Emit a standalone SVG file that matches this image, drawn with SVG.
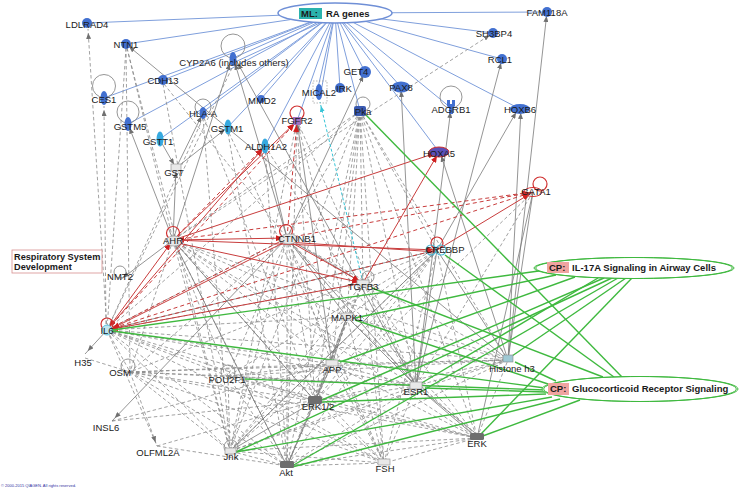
<svg xmlns="http://www.w3.org/2000/svg" width="743" height="489" viewBox="0 0 743 489">
<style>
.lb{font-family:"Liberation Sans",Arial,sans-serif;font-size:9.5px;fill:#1a1a1a;text-anchor:middle}
.bd{font-family:"Liberation Sans",Arial,sans-serif;font-weight:bold;font-size:9.5px;fill:#1a1a1a}
.eb line{stroke:#7f9fdc;stroke-width:1}
.egd line{stroke:#8a8a8a;stroke-width:0.8;stroke-dasharray:3.5 2.5}
.egs line{stroke:#7a7a7a;stroke-width:0.8}
.ers line{stroke:#c83c3c;stroke-width:1}
.erd line{stroke:#c83c3c;stroke-width:1;stroke-dasharray:4 3}
.egr line{stroke:#3fb93f;stroke-width:1.4}
.cy{stroke:#36c4d6;stroke-width:1;stroke-dasharray:3 2}
.loop{fill:none;stroke:#8a8a8a;stroke-width:0.9}
.rloop{fill:none;stroke:#d03030;stroke-width:1.2}
.bl{fill:#4270d0}
.cn{fill:#36a9df}
.hub{fill:#6e6e6e}
.gn{fill:#e8e8e8;stroke:#999;stroke-width:0.7}
</style>
<defs>
<marker id="ag" viewBox="0 0 6 5" refX="10" refY="2.5" markerWidth="6" markerHeight="5" markerUnits="userSpaceOnUse" orient="auto"><path d="M0,0L6,2.5L0,5z" fill="#707070"/></marker>
<marker id="ar" viewBox="0 0 7 6" refX="11" refY="3" markerWidth="7" markerHeight="6" markerUnits="userSpaceOnUse" orient="auto-start-reverse"><path d="M0,0L7,3L0,6z" fill="#d02020"/></marker>
<marker id="ac" viewBox="0 0 6 5" refX="10" refY="2.5" markerWidth="6" markerHeight="5" markerUnits="userSpaceOnUse" orient="auto"><path d="M0,0L6,2.5L0,5z" fill="#36c4d6"/></marker>
</defs>
<rect width="743" height="489" fill="#fff"/>

<g id="connectors">
<g class="eb">
<line x1="335" y1="13" x2="87" y2="23"/>
<line x1="335" y1="13" x2="126" y2="44"/>
<line x1="335" y1="13" x2="233" y2="58"/>
<line x1="335" y1="16" x2="235" y2="62"/>
<line x1="335" y1="13" x2="163" y2="80"/>
<line x1="335" y1="13" x2="104" y2="98"/>
<line x1="335" y1="13" x2="128" y2="124"/>
<line x1="335" y1="13" x2="203" y2="112"/>
<line x1="335" y1="13" x2="160" y2="139"/>
<line x1="335" y1="13" x2="228" y2="127"/>
<line x1="335" y1="13" x2="261" y2="99"/>
<line x1="335" y1="13" x2="265" y2="146"/>
<line x1="335" y1="13" x2="297" y2="121"/>
<line x1="335" y1="13" x2="317" y2="92"/>
<line x1="335" y1="13" x2="321" y2="92"/>
<line x1="335" y1="13" x2="340" y2="88"/>
<line x1="335" y1="13" x2="365" y2="72"/>
<line x1="335" y1="13" x2="360" y2="111"/>
<line x1="335" y1="13" x2="401" y2="87"/>
<line x1="335" y1="13" x2="439" y2="152"/>
<line x1="335" y1="13" x2="451" y2="108"/>
<line x1="335" y1="13" x2="520" y2="109"/>
<line x1="335" y1="13" x2="502" y2="59"/>
<line x1="335" y1="13" x2="493" y2="33"/>
<line x1="335" y1="13" x2="547" y2="12"/>
</g>
<g class="egd">
<line x1="107" y1="330" x2="88" y2="29" marker-end="url(#ag)"/>
<line x1="106" y1="330" x2="104" y2="106" marker-end="url(#ag)"/>
<line x1="126" y1="48" x2="107" y2="330"/>
<line x1="126" y1="48" x2="130" y2="372"/>
<line x1="127" y1="48" x2="173" y2="240"/>
<line x1="127" y1="48" x2="230" y2="451"/>
<line x1="163" y1="84" x2="230" y2="451"/>
<line x1="164" y1="84" x2="287" y2="238"/>
<line x1="203" y1="118" x2="107" y2="330"/>
<line x1="203" y1="118" x2="230" y2="451"/>
<line x1="204" y1="118" x2="315" y2="401"/>
<line x1="228" y1="133" x2="287" y2="466"/>
<line x1="229" y1="133" x2="384" y2="463"/>
<line x1="232" y1="68" x2="107" y2="330"/>
<line x1="297" y1="125" x2="315" y2="401"/>
<line x1="297" y1="125" x2="287" y2="466"/>
<line x1="298" y1="125" x2="347" y2="317"/>
<line x1="296" y1="125" x2="230" y2="451"/>
<line x1="299" y1="125" x2="416" y2="386"/>
<line x1="360" y1="111" x2="173" y2="240"/>
<line x1="360" y1="111" x2="287" y2="238"/>
<line x1="360" y1="111" x2="363" y2="283"/>
<line x1="360" y1="111" x2="347" y2="317"/>
<line x1="360" y1="111" x2="416" y2="386"/>
<line x1="360" y1="111" x2="315" y2="401"/>
<line x1="360" y1="111" x2="287" y2="466"/>
<line x1="360" y1="111" x2="230" y2="451"/>
<line x1="360" y1="111" x2="477" y2="438"/>
<line x1="360" y1="111" x2="437" y2="250"/>
<line x1="360" y1="111" x2="384" y2="463"/>
<line x1="360" y1="111" x2="332" y2="364"/>
<line x1="360" y1="111" x2="107" y2="330"/>
<line x1="360" y1="111" x2="508" y2="360"/>
<line x1="173" y1="240" x2="493" y2="33" marker-end="url(#ag)"/>
<line x1="173" y1="240" x2="416" y2="386"/>
<line x1="173" y1="240" x2="287" y2="466"/>
<line x1="173" y1="240" x2="230" y2="451"/>
<line x1="173" y1="240" x2="315" y2="401"/>
<line x1="173" y1="240" x2="477" y2="438"/>
<line x1="173" y1="240" x2="384" y2="463"/>
<line x1="173" y1="240" x2="347" y2="317"/>
<line x1="173" y1="240" x2="332" y2="364"/>
<line x1="173" y1="240" x2="228" y2="376"/>
<line x1="173" y1="240" x2="508" y2="360"/>
<line x1="173" y1="240" x2="130" y2="372"/>
<line x1="287" y1="238" x2="287" y2="466"/>
<line x1="287" y1="238" x2="230" y2="451"/>
<line x1="287" y1="238" x2="315" y2="401"/>
<line x1="287" y1="238" x2="477" y2="438"/>
<line x1="287" y1="238" x2="332" y2="364"/>
<line x1="287" y1="238" x2="508" y2="360"/>
<line x1="287" y1="238" x2="384" y2="463"/>
<line x1="287" y1="238" x2="228" y2="376"/>
<line x1="287" y1="238" x2="130" y2="372"/>
<line x1="287" y1="238" x2="107" y2="330"/>
<line x1="437" y1="250" x2="287" y2="466"/>
<line x1="437" y1="250" x2="230" y2="451"/>
<line x1="437" y1="250" x2="315" y2="401"/>
<line x1="437" y1="250" x2="477" y2="438"/>
<line x1="437" y1="250" x2="347" y2="317"/>
<line x1="437" y1="250" x2="332" y2="364"/>
<line x1="437" y1="250" x2="228" y2="376"/>
<line x1="437" y1="250" x2="130" y2="372"/>
<line x1="437" y1="250" x2="384" y2="463"/>
<line x1="363" y1="283" x2="416" y2="386"/>
<line x1="363" y1="283" x2="287" y2="466"/>
<line x1="363" y1="283" x2="230" y2="451"/>
<line x1="363" y1="283" x2="315" y2="401"/>
<line x1="363" y1="283" x2="347" y2="317"/>
<line x1="363" y1="283" x2="477" y2="438"/>
<line x1="363" y1="283" x2="384" y2="463"/>
<line x1="107" y1="330" x2="130" y2="372"/>
<line x1="107" y1="330" x2="228" y2="376"/>
<line x1="107" y1="330" x2="332" y2="364"/>
<line x1="107" y1="330" x2="416" y2="386"/>
<line x1="107" y1="330" x2="315" y2="401"/>
<line x1="107" y1="330" x2="287" y2="466"/>
<line x1="107" y1="330" x2="230" y2="451"/>
<line x1="107" y1="330" x2="477" y2="438"/>
<line x1="107" y1="330" x2="384" y2="463"/>
<line x1="107" y1="330" x2="347" y2="317"/>
<line x1="107" y1="330" x2="508" y2="360"/>
<line x1="107" y1="330" x2="363" y2="283"/>
<line x1="107" y1="330" x2="157" y2="446"/>
<line x1="130" y1="372" x2="228" y2="376"/>
<line x1="130" y1="372" x2="416" y2="386"/>
<line x1="130" y1="372" x2="508" y2="360"/>
<line x1="130" y1="372" x2="332" y2="364"/>
<line x1="130" y1="372" x2="230" y2="451"/>
<line x1="130" y1="372" x2="287" y2="466"/>
<line x1="130" y1="372" x2="384" y2="463"/>
<line x1="130" y1="372" x2="477" y2="438"/>
<line x1="130" y1="372" x2="157" y2="446" marker-end="url(#ag)"/>
<line x1="130" y1="372" x2="315" y2="401"/>
<line x1="85" y1="358" x2="130" y2="372"/>
<line x1="112" y1="421" x2="315" y2="401"/>
<line x1="112" y1="421" x2="332" y2="364"/>
<line x1="157" y1="446" x2="315" y2="401"/>
<line x1="157" y1="446" x2="287" y2="466"/>
<line x1="228" y1="376" x2="230" y2="451"/>
<line x1="228" y1="376" x2="287" y2="466"/>
<line x1="228" y1="376" x2="315" y2="401"/>
<line x1="228" y1="376" x2="332" y2="364"/>
<line x1="228" y1="376" x2="416" y2="386"/>
<line x1="228" y1="376" x2="508" y2="360"/>
<line x1="228" y1="376" x2="477" y2="438"/>
<line x1="228" y1="376" x2="384" y2="463"/>
<line x1="332" y1="364" x2="416" y2="386"/>
<line x1="332" y1="364" x2="287" y2="466"/>
<line x1="332" y1="364" x2="230" y2="451"/>
<line x1="332" y1="364" x2="384" y2="463"/>
<line x1="332" y1="364" x2="477" y2="438"/>
<line x1="332" y1="364" x2="508" y2="360"/>
<line x1="347" y1="317" x2="287" y2="466"/>
<line x1="347" y1="317" x2="230" y2="451"/>
<line x1="347" y1="317" x2="384" y2="463"/>
<line x1="347" y1="317" x2="477" y2="438"/>
<line x1="347" y1="317" x2="508" y2="360"/>
<line x1="416" y1="386" x2="287" y2="466"/>
<line x1="416" y1="386" x2="230" y2="451"/>
<line x1="416" y1="386" x2="384" y2="463"/>
<line x1="416" y1="386" x2="315" y2="401"/>
<line x1="416" y1="386" x2="508" y2="360"/>
<line x1="477" y1="438" x2="287" y2="466"/>
<line x1="477" y1="438" x2="384" y2="463"/>
<line x1="477" y1="438" x2="230" y2="451"/>
<line x1="477" y1="438" x2="508" y2="360"/>
<line x1="477" y1="438" x2="315" y2="401"/>
<line x1="287" y1="466" x2="384" y2="463"/>
<line x1="287" y1="466" x2="230" y2="451"/>
<line x1="230" y1="451" x2="384" y2="463"/>
<line x1="384" y1="463" x2="315" y2="401"/>
<line x1="508" y1="360" x2="287" y2="466"/>
<line x1="508" y1="360" x2="230" y2="451"/>
<line x1="508" y1="360" x2="315" y2="401"/>
<line x1="533" y1="192" x2="416" y2="386"/>
<line x1="533" y1="192" x2="315" y2="401"/>
<line x1="265" y1="146" x2="287" y2="466"/>
<line x1="265" y1="146" x2="416" y2="386"/>
</g>
<g class="egs">
<line x1="508" y1="360" x2="126" y2="44" marker-end="url(#ag)"/>
<line x1="173" y1="240" x2="128" y2="124" marker-end="url(#ag)"/>
<line x1="173" y1="240" x2="176" y2="168" marker-end="url(#ag)"/>
<line x1="176" y1="168" x2="203" y2="113" marker-end="url(#ag)"/>
<line x1="176" y1="168" x2="228" y2="127" marker-end="url(#ag)"/>
<line x1="160" y1="140" x2="176" y2="168" marker-end="url(#ag)"/>
<line x1="173" y1="240" x2="231" y2="60" marker-end="url(#ag)"/>
<line x1="287" y1="238" x2="234" y2="60" marker-end="url(#ag)"/>
<line x1="416" y1="386" x2="236" y2="60" marker-end="url(#ag)"/>
<line x1="173" y1="240" x2="120" y2="280" marker-end="url(#ag)"/>
<line x1="287" y1="238" x2="112" y2="421" marker-end="url(#ag)"/>
<line x1="416" y1="386" x2="502" y2="59" marker-end="url(#ag)"/>
<line x1="437" y1="250" x2="518" y2="109" marker-end="url(#ag)"/>
<line x1="508" y1="360" x2="521" y2="109" marker-end="url(#ag)"/>
<line x1="508" y1="360" x2="547" y2="12" marker-end="url(#ag)"/>
<line x1="416" y1="386" x2="451" y2="108" marker-end="url(#ag)"/>
<line x1="416" y1="386" x2="401" y2="87" marker-end="url(#ag)"/>
<line x1="508" y1="360" x2="440" y2="152" marker-end="url(#ag)"/>
<line x1="287" y1="238" x2="365" y2="72" marker-end="url(#ag)"/>
<line x1="332" y1="364" x2="297" y2="121" marker-end="url(#ag)"/>
<line x1="107" y1="330" x2="85" y2="354" marker-end="url(#ag)"/>
<line x1="287" y1="238" x2="416" y2="386"/>
<line x1="416" y1="386" x2="477" y2="438"/>
<line x1="419" y1="388" x2="479" y2="436"/>
<line x1="332" y1="364" x2="315" y2="401"/>
<line x1="347" y1="317" x2="315" y2="401"/>
<line x1="347" y1="317" x2="416" y2="386"/>
<line x1="315" y1="401" x2="287" y2="466"/>
<line x1="437" y1="250" x2="416" y2="386"/>
<line x1="508" y1="360" x2="437" y2="250"/>
<line x1="533" y1="192" x2="508" y2="360"/>
<line x1="533" y1="192" x2="477" y2="438"/>
<line x1="230" y1="451" x2="315" y2="401"/>
<line x1="347" y1="317" x2="332" y2="364"/>
<line x1="173" y1="240" x2="315" y2="401"/>
<line x1="173" y1="240" x2="287" y2="466"/>
<line x1="230" y1="451" x2="437" y2="250"/>
<line x1="107" y1="330" x2="437" y2="250"/>
<line x1="287" y1="238" x2="347" y2="317"/>
<line x1="287" y1="238" x2="363" y2="283"/>
<line x1="265" y1="146" x2="287" y2="238"/>
</g>
<line class="cy" x1="363" y1="283" x2="320" y2="102" marker-end="url(#ac)"/>
<g class="erd">
<line x1="107" y1="330" x2="287" y2="238"/>
<line x1="107" y1="330" x2="437" y2="250"/>
<line x1="107" y1="330" x2="533" y2="192"/>
<line x1="107" y1="330" x2="297" y2="121" marker-end="url(#ar)"/>
<line x1="173" y1="240" x2="265" y2="146" marker-end="url(#ar)"/>
<line x1="173" y1="240" x2="533" y2="192" marker-end="url(#ar)"/>
<line x1="287" y1="238" x2="297" y2="121" marker-end="url(#ar)"/>
<line x1="287" y1="238" x2="533" y2="192"/>
</g>
<g class="ers">
<line x1="173" y1="240" x2="287" y2="238" marker-start="url(#ar)" marker-end="url(#ar)"/>
<line x1="173" y1="240" x2="437" y2="250" marker-end="url(#ar)"/>
<line x1="287" y1="242" x2="437" y2="252" marker-end="url(#ar)"/>
<line x1="173" y1="242" x2="363" y2="283" marker-end="url(#ar)"/>
<line x1="287" y1="240" x2="363" y2="283" marker-end="url(#ar)"/>
<line x1="107" y1="330" x2="173" y2="240" marker-start="url(#ar)" marker-end="url(#ar)"/>
<line x1="109" y1="330" x2="287" y2="241" marker-start="url(#ar)"/>
<line x1="107" y1="330" x2="363" y2="283" marker-start="url(#ar)"/>
<line x1="107" y1="330" x2="265" y2="146" marker-end="url(#ar)"/>
<line x1="173" y1="240" x2="297" y2="121" marker-end="url(#ar)"/>
<line x1="173" y1="240" x2="439" y2="152" marker-end="url(#ar)"/>
<line x1="437" y1="250" x2="533" y2="192" marker-end="url(#ar)"/>
<line x1="363" y1="283" x2="439" y2="152" marker-end="url(#ar)"/>
</g>
<g class="egr">
<line x1="112" y1="330" x2="546" y2="270"/>
<line x1="355" y1="318" x2="556" y2="275"/>
<line x1="340" y1="362" x2="575" y2="277"/>
<line x1="420" y1="384" x2="598" y2="278"/>
<line x1="322" y1="400" x2="604" y2="278"/>
<line x1="236" y1="452" x2="612" y2="278"/>
<line x1="292" y1="466" x2="618" y2="278"/>
<line x1="512" y1="356" x2="626" y2="278"/>
<line x1="480" y1="435" x2="632" y2="278"/>
<line x1="366" y1="115" x2="622" y2="377"/>
<line x1="445" y1="255" x2="614" y2="377"/>
<line x1="372" y1="288" x2="603" y2="377"/>
<line x1="355" y1="320" x2="548" y2="384"/>
<line x1="112" y1="331" x2="545" y2="388"/>
<line x1="245" y1="379" x2="545" y2="390"/>
<line x1="425" y1="388" x2="545" y2="392"/>
<line x1="322" y1="402" x2="546" y2="394"/>
<line x1="515" y1="362" x2="556" y2="381"/>
<line x1="236" y1="452" x2="552" y2="397"/>
<line x1="292" y1="467" x2="560" y2="399"/>
<line x1="480" y1="437" x2="580" y2="400"/>
</g>
</g>

<g id="ml"><ellipse cx="335" cy="13" rx="57" ry="10" fill="#fff" stroke="#6f8fd6" stroke-width="1.5"/><rect x="299" y="8" width="23" height="11" fill="#2bb3ad"/><text class="bd" x="301" y="17">ML:</text><text class="bd" x="326" y="17">RA genes</text></g>
<g id="il17a"><ellipse cx="634" cy="268" rx="100" ry="10.5" fill="#fff" stroke="#3fb93f" stroke-width="1"/><ellipse cx="634" cy="268" rx="98.3" ry="10.5" fill="none" stroke="#3fb93f" stroke-width="1"/><rect x="547" y="262" width="22" height="11" fill="#f0a4a0"/><text class="bd" x="549" y="271">CP:</text><text class="bd" x="572" y="271">IL-17A Signaling in Airway Cells</text></g>
<g id="gr"><ellipse cx="640" cy="389" rx="98" ry="12.5" fill="#fff" stroke="#3fb93f" stroke-width="1"/><ellipse cx="640" cy="389" rx="96.3" ry="12.5" fill="none" stroke="#3fb93f" stroke-width="1"/><rect x="548" y="383" width="21" height="12" fill="#f0a4a0"/><text class="bd" x="550" y="392">CP:</text><text class="bd" x="572" y="392">Glucocorticoid Receptor Signaling</text></g>
<g id="resp"><rect x="12" y="250" width="90" height="23" fill="#fff" stroke="#d89090" stroke-width="0.8"/><text class="bd" x="14" y="260" style="font-size:9.2px">Respiratory System</text><text class="bd" x="14" y="270" style="font-size:9.2px">Development</text></g>

<g id="n-ldlrad4"><circle class="bl" cx="87" cy="23" r="5"/><text class="lb" x="87" y="27.5">LDLRAD4</text></g>
<g id="n-ntn1"><circle class="bl" cx="126" cy="44" r="5"/><text class="lb" x="126" y="47.5">NTN1</text></g>
<g id="n-cyp2a6"><circle class="loop" cx="233" cy="46" r="12"/><ellipse class="bl" cx="233" cy="59" rx="3.5" ry="7"/><text class="lb" x="234" y="65.5">CYP2A6 (includes others)</text></g>
<g id="n-cdh13"><circle class="bl" cx="163" cy="80" r="5"/><text class="lb" x="163" y="83.5">CDH13</text></g>
<g id="n-ces1"><circle class="loop" cx="104" cy="86" r="11.5"/><ellipse class="bl" cx="104" cy="98" rx="3.5" ry="7"/><text class="lb" x="104" y="102.5">CES1</text></g>
<g id="n-gstm5"><circle class="loop" cx="128" cy="112" r="11"/><ellipse class="bl" cx="128" cy="124" rx="3.5" ry="7"/><text class="lb" x="130" y="129.5">GSTM5</text></g>
<g id="n-hlaa"><circle class="loop" cx="203" cy="107" r="8"/><ellipse class="bl" cx="203" cy="113" rx="3.5" ry="6"/><text class="lb" x="203" y="116.5">HLA-A</text></g>
<g id="n-gstt1"><ellipse class="cn" cx="160" cy="139" rx="3.5" ry="7.5"/><text class="lb" x="158" y="144.5">GSTT1</text></g>
<g id="n-gstm1"><ellipse class="cn" cx="228" cy="127" rx="3.5" ry="7.5"/><text class="lb" x="227" y="131.5">GSTM1</text></g>
<g id="n-mmd2"><circle class="bl" cx="261" cy="99" r="4"/><text class="lb" x="262" y="103.5">MMD2</text></g>
<g id="n-fgfr2"><circle class="rloop" cx="297" cy="113" r="7"/><rect x="293" y="117" width="8" height="8" fill="#a070c0"/><text class="lb" x="297" y="123.5">FGFR2</text></g>
<g id="n-aldh1a2"><ellipse class="cn" cx="265" cy="146" rx="3.5" ry="7.5"/><text class="lb" x="266" y="149.5">ALDH1A2</text></g>
<g id="n-mical2"><rect x="313" y="81" width="14" height="22" fill="none" stroke="#999" stroke-width="0.7" stroke-dasharray="1.5 1.5"/><ellipse class="bl" cx="319" cy="92" rx="3.5" ry="8"/><text class="lb" x="319" y="95.5">MICAL2</text></g>
<g id="n-irk"><circle class="bl" cx="340" cy="88" r="5"/><text class="lb" x="344" y="91.5">IRK</text></g>
<g id="n-get4"><circle class="bl" cx="365" cy="72" r="6"/><text class="lb" x="356" y="74.5">GET4</text></g>
<g id="n-pka"><circle class="loop" cx="363" cy="104" r="7"/><rect x="354" y="106" width="12" height="10" rx="2" fill="#3a5ab0"/><text class="lb" x="363" y="114.5">Pka</text></g>
<g id="n-pax8"><ellipse class="bl" cx="401" cy="87" rx="9" ry="5.5"/><text class="lb" x="401" y="90.5">PAX8</text></g>
<g id="n-adgrb1"><circle class="loop" cx="451" cy="97" r="11"/><path class="bl" d="M447,100h3v4h2v-4h3v6l-2,2v6h-4v-6l-2,-2z"/><text class="lb" x="451" y="112.5">ADGRB1</text></g>
<g id="n-hoxa5"><ellipse cx="439" cy="152" rx="10" ry="5" fill="#5a50b8" stroke="#d03030" stroke-width="1"/><text class="lb" x="439" y="156.5">HOXA5</text></g>
<g id="n-sh3bp4"><circle class="bl" cx="493" cy="33" r="5"/><text class="lb" x="494" y="36.5">SH3BP4</text></g>
<g id="n-rcl1"><circle class="bl" cx="502" cy="59" r="5"/><text class="lb" x="500" y="62.5">RCL1</text></g>
<g id="n-hoxb6"><ellipse class="bl" cx="520" cy="109" rx="10" ry="5"/><text class="lb" x="520" y="112.5">HOXB6</text></g>
<g id="n-fam118a"><circle class="bl" cx="547" cy="12" r="5"/><text class="lb" x="547" y="15.5">FAM118A</text></g>
<g id="n-gst"><rect class="gn" x="171" y="164" width="10" height="7"/><text class="lb" x="174" y="175.5">GST</text></g>
<g id="n-ahr"><circle class="rloop" cx="173" cy="233" r="6.5"/><ellipse class="gn" cx="174" cy="241" rx="8" ry="5"/><text class="lb" x="173" y="243.5">AHR</text></g>
<g id="n-ctnnb1"><circle class="rloop" cx="286" cy="231" r="6.5"/><ellipse class="gn" cx="289" cy="239" rx="9" ry="5"/><text class="lb" x="297" y="241.5">CTNNB1</text></g>
<g id="n-crebbp"><circle class="rloop" cx="437" cy="243" r="6"/><circle cx="431" cy="250" r="5" fill="none" stroke="#40b8d8" stroke-width="1.1"/><circle cx="441" cy="250" r="5" fill="none" stroke="#40b8d8" stroke-width="1.1"/><text class="lb" x="445" y="252.5">CREBBP</text></g>
<g id="n-tgfb3"><circle class="loop" cx="368" cy="277" r="6"/><rect class="gn" x="357" y="280" width="12" height="6"/><text class="lb" x="363" y="289.5">TGFB3</text></g>
<g id="n-gata1"><circle class="rloop" cx="540" cy="184" r="7"/><ellipse cx="533" cy="192" rx="9" ry="4.5" fill="none" stroke="#d03030" stroke-width="1"/><text class="lb" x="536" y="194.5">GATA1</text></g>
<g id="n-nmt2"><circle class="loop" cx="120" cy="272" r="6"/><text class="lb" x="120" y="279.5">NMT2</text></g>
<g id="n-il6"><circle class="rloop" cx="107" cy="324" r="6"/><circle cx="107" cy="330" r="5" fill="#bfe6f0" stroke="#40b8d8" stroke-width="0.8"/><text class="lb" x="107" y="333.5">IL6</text></g>
<g id="n-mapk1"><rect class="gn" x="341" y="313" width="12" height="7"/><text class="lb" x="347" y="320.5">MAPK1</text></g>
<g id="n-h35"><text class="lb" x="83" y="365.5">H35</text></g>
<g id="n-osm"><circle class="loop" cx="128" cy="366" r="7"/><text class="lb" x="120" y="375.5">OSM</text></g>
<g id="n-pou2f1"><circle class="loop" cx="228" cy="372" r="7"/><text class="lb" x="227" y="382.5">POU2F1</text></g>
<g id="n-app"><rect class="gn" x="326" y="360" width="12" height="6"/><text class="lb" x="332" y="372.5">APP</text></g>
<g id="n-histone"><rect x="503" y="355" width="10" height="7" fill="#9fc9d4" stroke="#888" stroke-width="0.6"/><text class="lb" x="512" y="371.5">Histone h3</text></g>
<g id="n-esr1"><rect class="gn" x="410" y="382" width="12" height="7"/><text class="lb" x="416" y="394.5">ESR1</text></g>
<g id="n-erk12"><rect class="hub" x="308" y="396" width="14" height="8" rx="1.5"/><text class="lb" x="318" y="409.5">ERK1/2</text></g>
<g id="n-insl6"><text class="lb" x="106" y="430.5">INSL6</text></g>
<g id="n-olfml2a"><text class="lb" x="158" y="455.5">OLFML2A</text></g>
<g id="n-jnk"><circle class="loop" cx="231" cy="447" r="7"/><rect class="gn" x="225" y="448" width="11" height="6"/><text class="lb" x="231" y="459.5">Jnk</text></g>
<g id="n-akt"><rect class="hub" x="280" y="461" width="14" height="7" rx="1.5"/><text class="lb" x="286" y="475.5">Akt</text></g>
<g id="n-fsh"><rect class="gn" x="378" y="459" width="12" height="6"/><text class="lb" x="385" y="471.5">FSH</text></g>
<g id="n-erk"><rect class="hub" x="470" y="433" width="14" height="7" rx="1.5"/><text class="lb" x="477" y="446.5">ERK</text></g>
<text x="1" y="487" style="font-family:'Liberation Sans',Arial,sans-serif;font-size:4px;fill:#3030a0">© 2000-2015 QIAGEN. All rights reserved.</text>
</svg>
